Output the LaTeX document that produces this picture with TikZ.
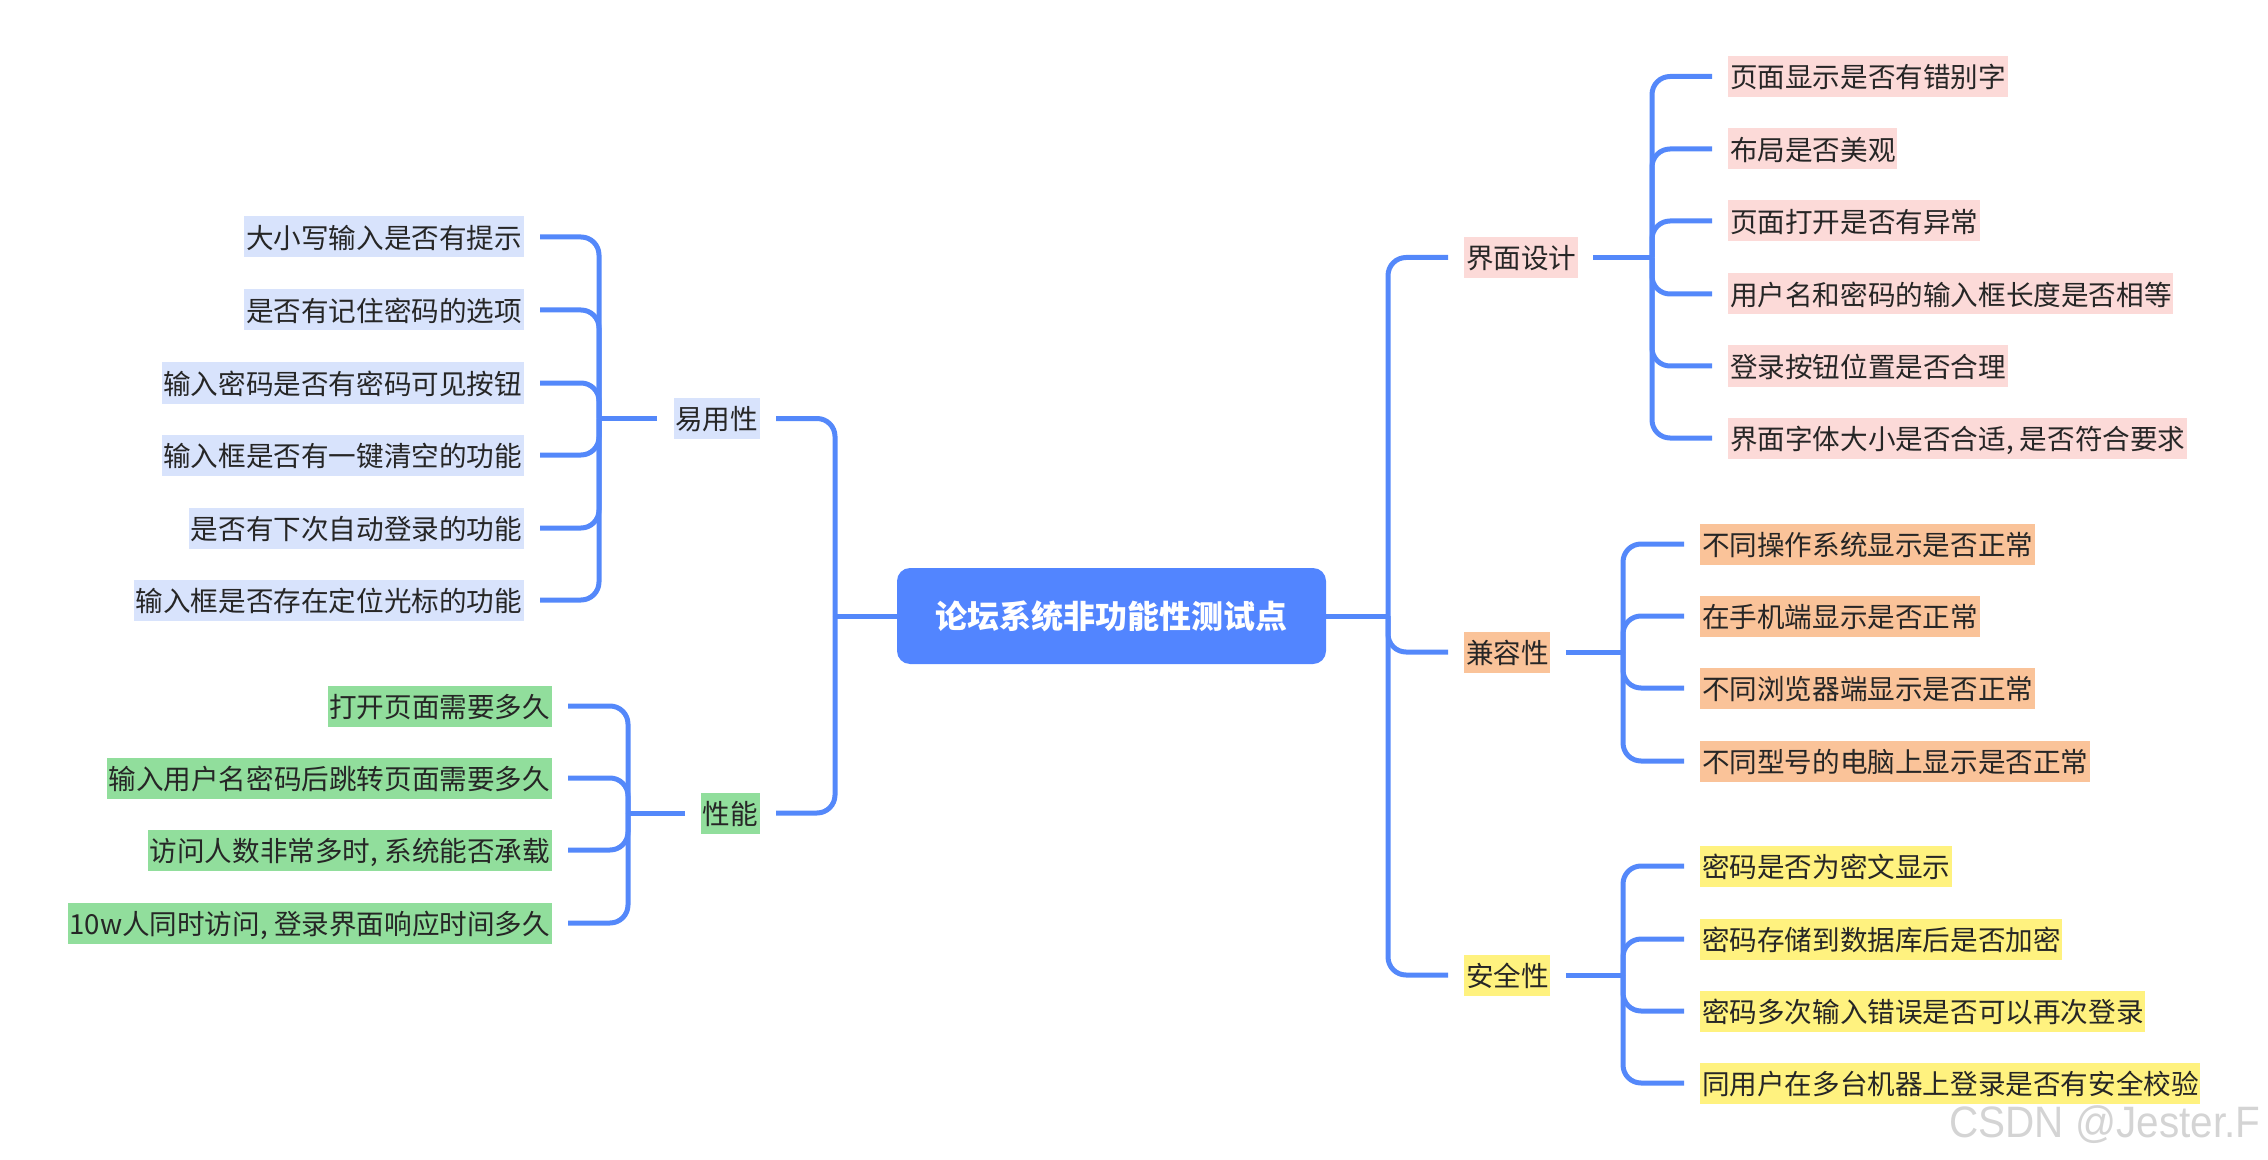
\documentclass[tikz,border=0pt]{standalone}
\usepackage{fontspec}
\setmainfont{Noto Sans CJK SC}
\newfontfamily\markfont{Liberation Sans}
\definecolor{linkBlue}{HTML}{5488FA}
\definecolor{rootBlue}{HTML}{5285FF}
\definecolor{pinkBg}{HTML}{FCDAD8}
\definecolor{orangeBg}{HTML}{FAC399}
\definecolor{yellowBg}{HTML}{FFF27F}
\definecolor{greenBg}{HTML}{91DE9C}
\definecolor{blueBg}{HTML}{D8E3FC}
\definecolor{inkN}{HTML}{262626}

\begin{document}
\begin{tikzpicture}
  [x=0.5pt,y=-0.5pt,
   rootN/.style={rectangle,rounded corners=6.5pt,fill=rootBlue,text=white,
     font=\fontsize{16pt}{19pt}\selectfont\bfseries,
     minimum width=214.5pt,minimum height=48pt,inner sep=0pt},
   leafN/.style={rectangle,fill=#1,text=inkN,
     font=\fontsize{13.8pt}{16pt}\selectfont,
     inner xsep=0.8pt,inner ysep=0pt,text height=12.6pt,text depth=1.2pt,
     minimum height=20.5pt},
   linkN/.style={draw=linkBlue,line width=2.5pt,rounded corners=9pt},
   gapN/.style={shorten >=8pt}]

  \useasboundingbox (0,0) rectangle (2268,1160);

  \path (1111.5,616) node[rootN] (root) {论坛系统非功能性测试点};
  \coordinate (rt) at (1388,616);
  \coordinate (lt) at (835,616);

  % right side
  \path (1464,257.5) node[leafN=pinkBg,anchor=west] (ui) {界面设计}
        (1464,652)   node[leafN=orangeBg,anchor=west] (comp) {兼容性}
        (1464,975)   node[leafN=yellowBg,anchor=west] (safe) {安全性};
  \coordinate (bui) at (1652,257.5);
  \coordinate (bcomp) at (1623,652);
  \coordinate (bsafe) at (1623,975);

  \path (1728,76.5) node[leafN=pinkBg,anchor=west] (ui1) {页面显示是否有错别字}
        (1728,149)  node[leafN=pinkBg,anchor=west] (ui2) {布局是否美观}
        (1728,221)  node[leafN=pinkBg,anchor=west] (ui3) {页面打开是否有异常}
        (1728,294)  node[leafN=pinkBg,anchor=west] (ui4) {用户名和密码的输入框长度是否相等}
        (1728,366)  node[leafN=pinkBg,anchor=west] (ui5) {登录按钮位置是否合理}
        (1728,438)  node[leafN=pinkBg,anchor=west] (ui6) {界面字体大小是否合适, 是否符合要求};

  \path (1700,544) node[leafN=orangeBg,anchor=west] (comp1) {不同操作系统显示是否正常}
        (1700,616) node[leafN=orangeBg,anchor=west] (comp2) {在手机端显示是否正常}
        (1700,688) node[leafN=orangeBg,anchor=west] (comp3) {不同浏览器端显示是否正常}
        (1700,761) node[leafN=orangeBg,anchor=west] (comp4) {不同型号的电脑上显示是否正常};

  \path (1700,866)  node[leafN=yellowBg,anchor=west] (safe1) {密码是否为密文显示}
        (1700,939)  node[leafN=yellowBg,anchor=west] (safe2) {密码存储到数据库后是否加密}
        (1700,1011) node[leafN=yellowBg,anchor=west] (safe3) {密码多次输入错误是否可以再次登录}
        (1700,1083) node[leafN=yellowBg,anchor=west] (safe4) {同用户在多台机器上登录是否有安全校验};

  % left side
  \path (760,418.5) node[leafN=blueBg,anchor=east] (easy) {易用性}
        (760,813)   node[leafN=greenBg,anchor=east] (perf) {性能};
  \coordinate (beasy) at (599,418.5);
  \coordinate (bperf) at (628,813);

  \path (524,237) node[leafN=blueBg,anchor=east] (easy1) {大小写输入是否有提示}
        (524,310) node[leafN=blueBg,anchor=east] (easy2) {是否有记住密码的选项}
        (524,383) node[leafN=blueBg,anchor=east] (easy3) {输入密码是否有密码可见按钮}
        (524,455) node[leafN=blueBg,anchor=east] (easy4) {输入框是否有一键清空的功能}
        (524,528) node[leafN=blueBg,anchor=east] (easy5) {是否有下次自动登录的功能}
        (524,600) node[leafN=blueBg,anchor=east] (easy6) {输入框是否存在定位光标的功能};

  \path (552,706) node[leafN=greenBg,anchor=east] (perf1) {打开页面需要多久}
        (552,778) node[leafN=greenBg,anchor=east] (perf2) {输入用户名密码后跳转页面需要多久}
        (552,850) node[leafN=greenBg,anchor=east] (perf3) {访问人数非常多时, 系统能否承载}
        (552,923) node[leafN=greenBg,anchor=east] (perf4) {10w人同时访问, 登录界面响应时间多久};

  % links
  \draw[linkN] (root) -- (rt);
  \draw[linkN] (root) -- (lt);
  \draw[linkN,gapN] (rt) |- (ui.west);
  \draw[linkN,gapN] (rt) |- (comp.west);
  \draw[linkN,gapN] (rt) |- (safe.west);
  \draw[linkN,gapN] (lt) |- (easy.east);
  \draw[linkN,gapN] (lt) |- (perf.east);

  \draw[linkN,shorten <=7.5pt] (ui) -- (bui);
  \draw[linkN,shorten <=7.5pt] (comp) -- (bcomp);
  \draw[linkN,shorten <=7.5pt] (safe) -- (bsafe);
  \draw[linkN,shorten <=8pt] (easy) -- (beasy);
  \draw[linkN,shorten <=8pt] (perf) -- (bperf);

  \draw[linkN,gapN] (bui) |- (ui1.west);
  \draw[linkN,gapN] (bui) |- (ui2.west);
  \draw[linkN,gapN] (bui) |- (ui3.west);
  \draw[linkN,gapN] (bui) |- (ui4.west);
  \draw[linkN,gapN] (bui) |- (ui5.west);
  \draw[linkN,gapN] (bui) |- (ui6.west);

  \draw[linkN,gapN] (bcomp) |- (comp1.west);
  \draw[linkN,gapN] (bcomp) |- (comp2.west);
  \draw[linkN,gapN] (bcomp) |- (comp3.west);
  \draw[linkN,gapN] (bcomp) |- (comp4.west);

  \draw[linkN,gapN] (bsafe) |- (safe1.west);
  \draw[linkN,gapN] (bsafe) |- (safe2.west);
  \draw[linkN,gapN] (bsafe) |- (safe3.west);
  \draw[linkN,gapN] (bsafe) |- (safe4.west);

  \draw[linkN,gapN] (beasy) |- (easy1.east);
  \draw[linkN,gapN] (beasy) |- (easy2.east);
  \draw[linkN,gapN] (beasy) |- (easy3.east);
  \draw[linkN,gapN] (beasy) |- (easy4.east);
  \draw[linkN,gapN] (beasy) |- (easy5.east);
  \draw[linkN,gapN] (beasy) |- (easy6.east);

  \draw[linkN,gapN] (bperf) |- (perf1.east);
  \draw[linkN,gapN] (bperf) |- (perf2.east);
  \draw[linkN,gapN] (bperf) |- (perf3.east);
  \draw[linkN,gapN] (bperf) |- (perf4.east);

  % watermark
  \path (1949,1137) node[anchor=base west,inner sep=0pt,text=black!17,
    font=\markfont\fontsize{22pt}{26pt}\selectfont] (mark) {\scalebox{0.92}[1]{CSDN @Jester.F}};
\end{tikzpicture}
\end{document}
